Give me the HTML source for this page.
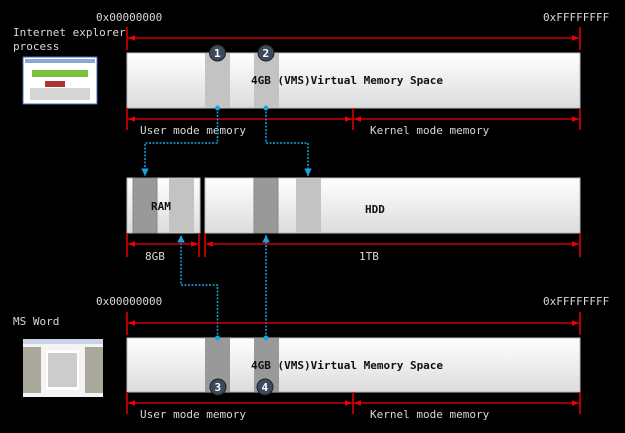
<!DOCTYPE html>
<html><head><meta charset="utf-8"><style>
html,body{margin:0;padding:0;background:#000;}
svg{display:block}
text{font-family:"DejaVu Sans Mono","Liberation Mono",monospace;font-size:11px;fill:#d8d8d8}
.b{font-weight:bold;fill:#111}
</style></head><body>
<svg width="625" height="433" viewBox="0 0 625 433" xmlns="http://www.w3.org/2000/svg">
<defs>
<linearGradient id="g" x1="0" y1="0" x2="0" y2="1"><stop offset="0" stop-color="#ffffff"/><stop offset="1" stop-color="#dcdcdc"/></linearGradient>
<marker id="ar" viewBox="0 0 10 10" refX="10" refY="5" markerWidth="6" markerHeight="6" orient="auto-start-reverse"><path d="M0,1 L10,5 L0,9z" fill="#e00"/></marker>
<marker id="bl" viewBox="0 0 10 10" refX="10" refY="5" markerWidth="5" markerHeight="5" orient="auto"><path d="M0,0 L10,5 L0,10z" fill="#19a3e0"/></marker>
</defs>
<rect width="625" height="433" fill="#000"/>

<!-- top section -->
<text x="96" y="21">0x00000000</text>
<text x="543" y="21">0xFFFFFFFF</text>
<text x="13" y="36">Internet explorer</text>
<text x="13" y="50">process</text>
<rect x="23" y="57" width="74" height="47" fill="#fff" stroke="#4a6ab0"/>
<rect x="25" y="59" width="70" height="4" fill="#8aa8d8"/>
<rect x="32" y="70" width="56" height="7" fill="#7cc040"/>
<rect x="45" y="81" width="20" height="6" fill="#a33"/>
<rect x="30" y="88" width="60" height="12" fill="#bbb" opacity=".6"/>

<line x1="127" y1="27" x2="127" y2="50" stroke="#e00" stroke-width="1.5"/>
<line x1="580" y1="27" x2="580" y2="50" stroke="#e00" stroke-width="1.5"/>
<line x1="128" y1="38" x2="579" y2="38" stroke="#e00" stroke-width="1.2" marker-start="url(#ar)" marker-end="url(#ar)"/>

<rect x="127" y="53" width="453" height="55" fill="url(#g)" stroke="#bbb"/>
<rect x="205" y="53" width="25" height="55" fill="#c3c3c3"/>
<rect x="254" y="53" width="25" height="55" fill="#c3c3c3"/>
<circle cx="217.5" cy="53" r="8" fill="#3b4a5c" stroke="#222"/><text x="214" y="57" style="fill:#fff;font-weight:bold">1</text>
<circle cx="266" cy="53" r="8" fill="#3b4a5c" stroke="#222"/><text x="262.5" y="57" style="fill:#fff;font-weight:bold">2</text>
<text x="251" y="84" class="b">4GB (VMS)Virtual Memory Space</text>

<line x1="127" y1="108" x2="127" y2="130" stroke="#e00" stroke-width="1.5"/>
<line x1="353" y1="108" x2="353" y2="130" stroke="#e00" stroke-width="1.5"/>
<line x1="580" y1="108" x2="580" y2="130" stroke="#e00" stroke-width="1.5"/>
<line x1="128" y1="119" x2="352" y2="119" stroke="#e00" stroke-width="1.2" marker-start="url(#ar)" marker-end="url(#ar)"/>
<line x1="354" y1="119" x2="579" y2="119" stroke="#e00" stroke-width="1.2" marker-start="url(#ar)" marker-end="url(#ar)"/>
<text x="140" y="134">User mode memory</text>
<text x="370" y="134">Kernel mode memory</text>

<!-- blue connectors -->
<g stroke="#19a3e0" stroke-width="1.5" stroke-dasharray="2,1.5" fill="none">
<polyline points="217.5,108 217.5,143 145,143 145,176" marker-end="url(#bl)"/>
<polyline points="266,108 266,143 308,143 308,176" marker-end="url(#bl)"/>
<polyline points="217.5,338 217.5,285 181,285 181,235" marker-end="url(#bl)"/>
<polyline points="266,338 266,235" marker-end="url(#bl)"/>
</g>
<circle cx="217.5" cy="108" r="2.5" fill="#19a3e0"/>
<circle cx="266" cy="108" r="2.5" fill="#19a3e0"/>

<!-- RAM/HDD -->
<rect x="127" y="178" width="73" height="55" fill="url(#g)" stroke="#bbb"/>
<rect x="133" y="178" width="24" height="55" fill="#999" stroke="#888"/>
<rect x="169" y="178" width="25" height="55" fill="#c3c3c3"/>
<text x="151" y="210" class="b">RAM</text>
<rect x="205" y="178" width="375" height="55" fill="url(#g)" stroke="#bbb"/>
<rect x="254" y="178" width="24" height="55" fill="#999" stroke="#888"/>
<rect x="296" y="178" width="25" height="55" fill="#c3c3c3"/>
<text x="365" y="213" class="b">HDD</text>

<line x1="127" y1="233" x2="127" y2="257" stroke="#e00" stroke-width="1.5"/>
<line x1="199" y1="233" x2="199" y2="257" stroke="#e00" stroke-width="1.5"/>
<line x1="205" y1="233" x2="205" y2="257" stroke="#e00" stroke-width="1.5"/>
<line x1="580" y1="233" x2="580" y2="257" stroke="#e00" stroke-width="1.5"/>
<line x1="128" y1="244" x2="198" y2="244" stroke="#e00" stroke-width="1.2" marker-start="url(#ar)" marker-end="url(#ar)"/>
<line x1="206" y1="244" x2="579" y2="244" stroke="#e00" stroke-width="1.2" marker-start="url(#ar)" marker-end="url(#ar)"/>
<text x="145" y="260">8GB</text>
<text x="359" y="260">1TB</text>

<!-- bottom section -->
<text x="96" y="305">0x00000000</text>
<text x="543" y="305">0xFFFFFFFF</text>
<text x="13" y="325">MS Word</text>
<rect x="23" y="339" width="80" height="58" fill="#f4f4f4"/>
<rect x="23" y="339" width="80" height="5" fill="#c9d4e8"/>
<rect x="23" y="347" width="18" height="46" fill="#aaa89a"/>
<rect x="85" y="347" width="18" height="46" fill="#aaa89a"/>
<rect x="46" y="350" width="33" height="40" fill="#fff"/>
<rect x="48" y="353" width="29" height="34" fill="#999" opacity=".5"/>

<line x1="127" y1="312" x2="127" y2="335" stroke="#e00" stroke-width="1.5"/>
<line x1="580" y1="312" x2="580" y2="335" stroke="#e00" stroke-width="1.5"/>
<line x1="128" y1="323" x2="579" y2="323" stroke="#e00" stroke-width="1.2" marker-start="url(#ar)" marker-end="url(#ar)"/>

<rect x="127" y="338" width="453" height="54" fill="url(#g)" stroke="#bbb"/>
<rect x="205" y="338" width="25" height="54" fill="#999"/>
<rect x="254" y="338" width="25" height="54" fill="#999"/>
<circle cx="217.5" cy="338" r="2.5" fill="#19a3e0"/>
<circle cx="266" cy="338" r="2.5" fill="#19a3e0"/>
<circle cx="218" cy="387" r="8" fill="#3b4a5c" stroke="#222"/><text x="214.5" y="391" style="fill:#fff;font-weight:bold">3</text>
<circle cx="265" cy="387" r="8" fill="#3b4a5c" stroke="#222"/><text x="261.5" y="391" style="fill:#fff;font-weight:bold">4</text>
<text x="251" y="369" class="b">4GB (VMS)Virtual Memory Space</text>

<line x1="127" y1="392" x2="127" y2="414" stroke="#e00" stroke-width="1.5"/>
<line x1="353" y1="392" x2="353" y2="414" stroke="#e00" stroke-width="1.5"/>
<line x1="580" y1="392" x2="580" y2="414" stroke="#e00" stroke-width="1.5"/>
<line x1="128" y1="403" x2="352" y2="403" stroke="#e00" stroke-width="1.2" marker-start="url(#ar)" marker-end="url(#ar)"/>
<line x1="354" y1="403" x2="579" y2="403" stroke="#e00" stroke-width="1.2" marker-start="url(#ar)" marker-end="url(#ar)"/>
<text x="140" y="418">User mode memory</text>
<text x="370" y="418">Kernel mode memory</text>
</svg>
</body></html>
